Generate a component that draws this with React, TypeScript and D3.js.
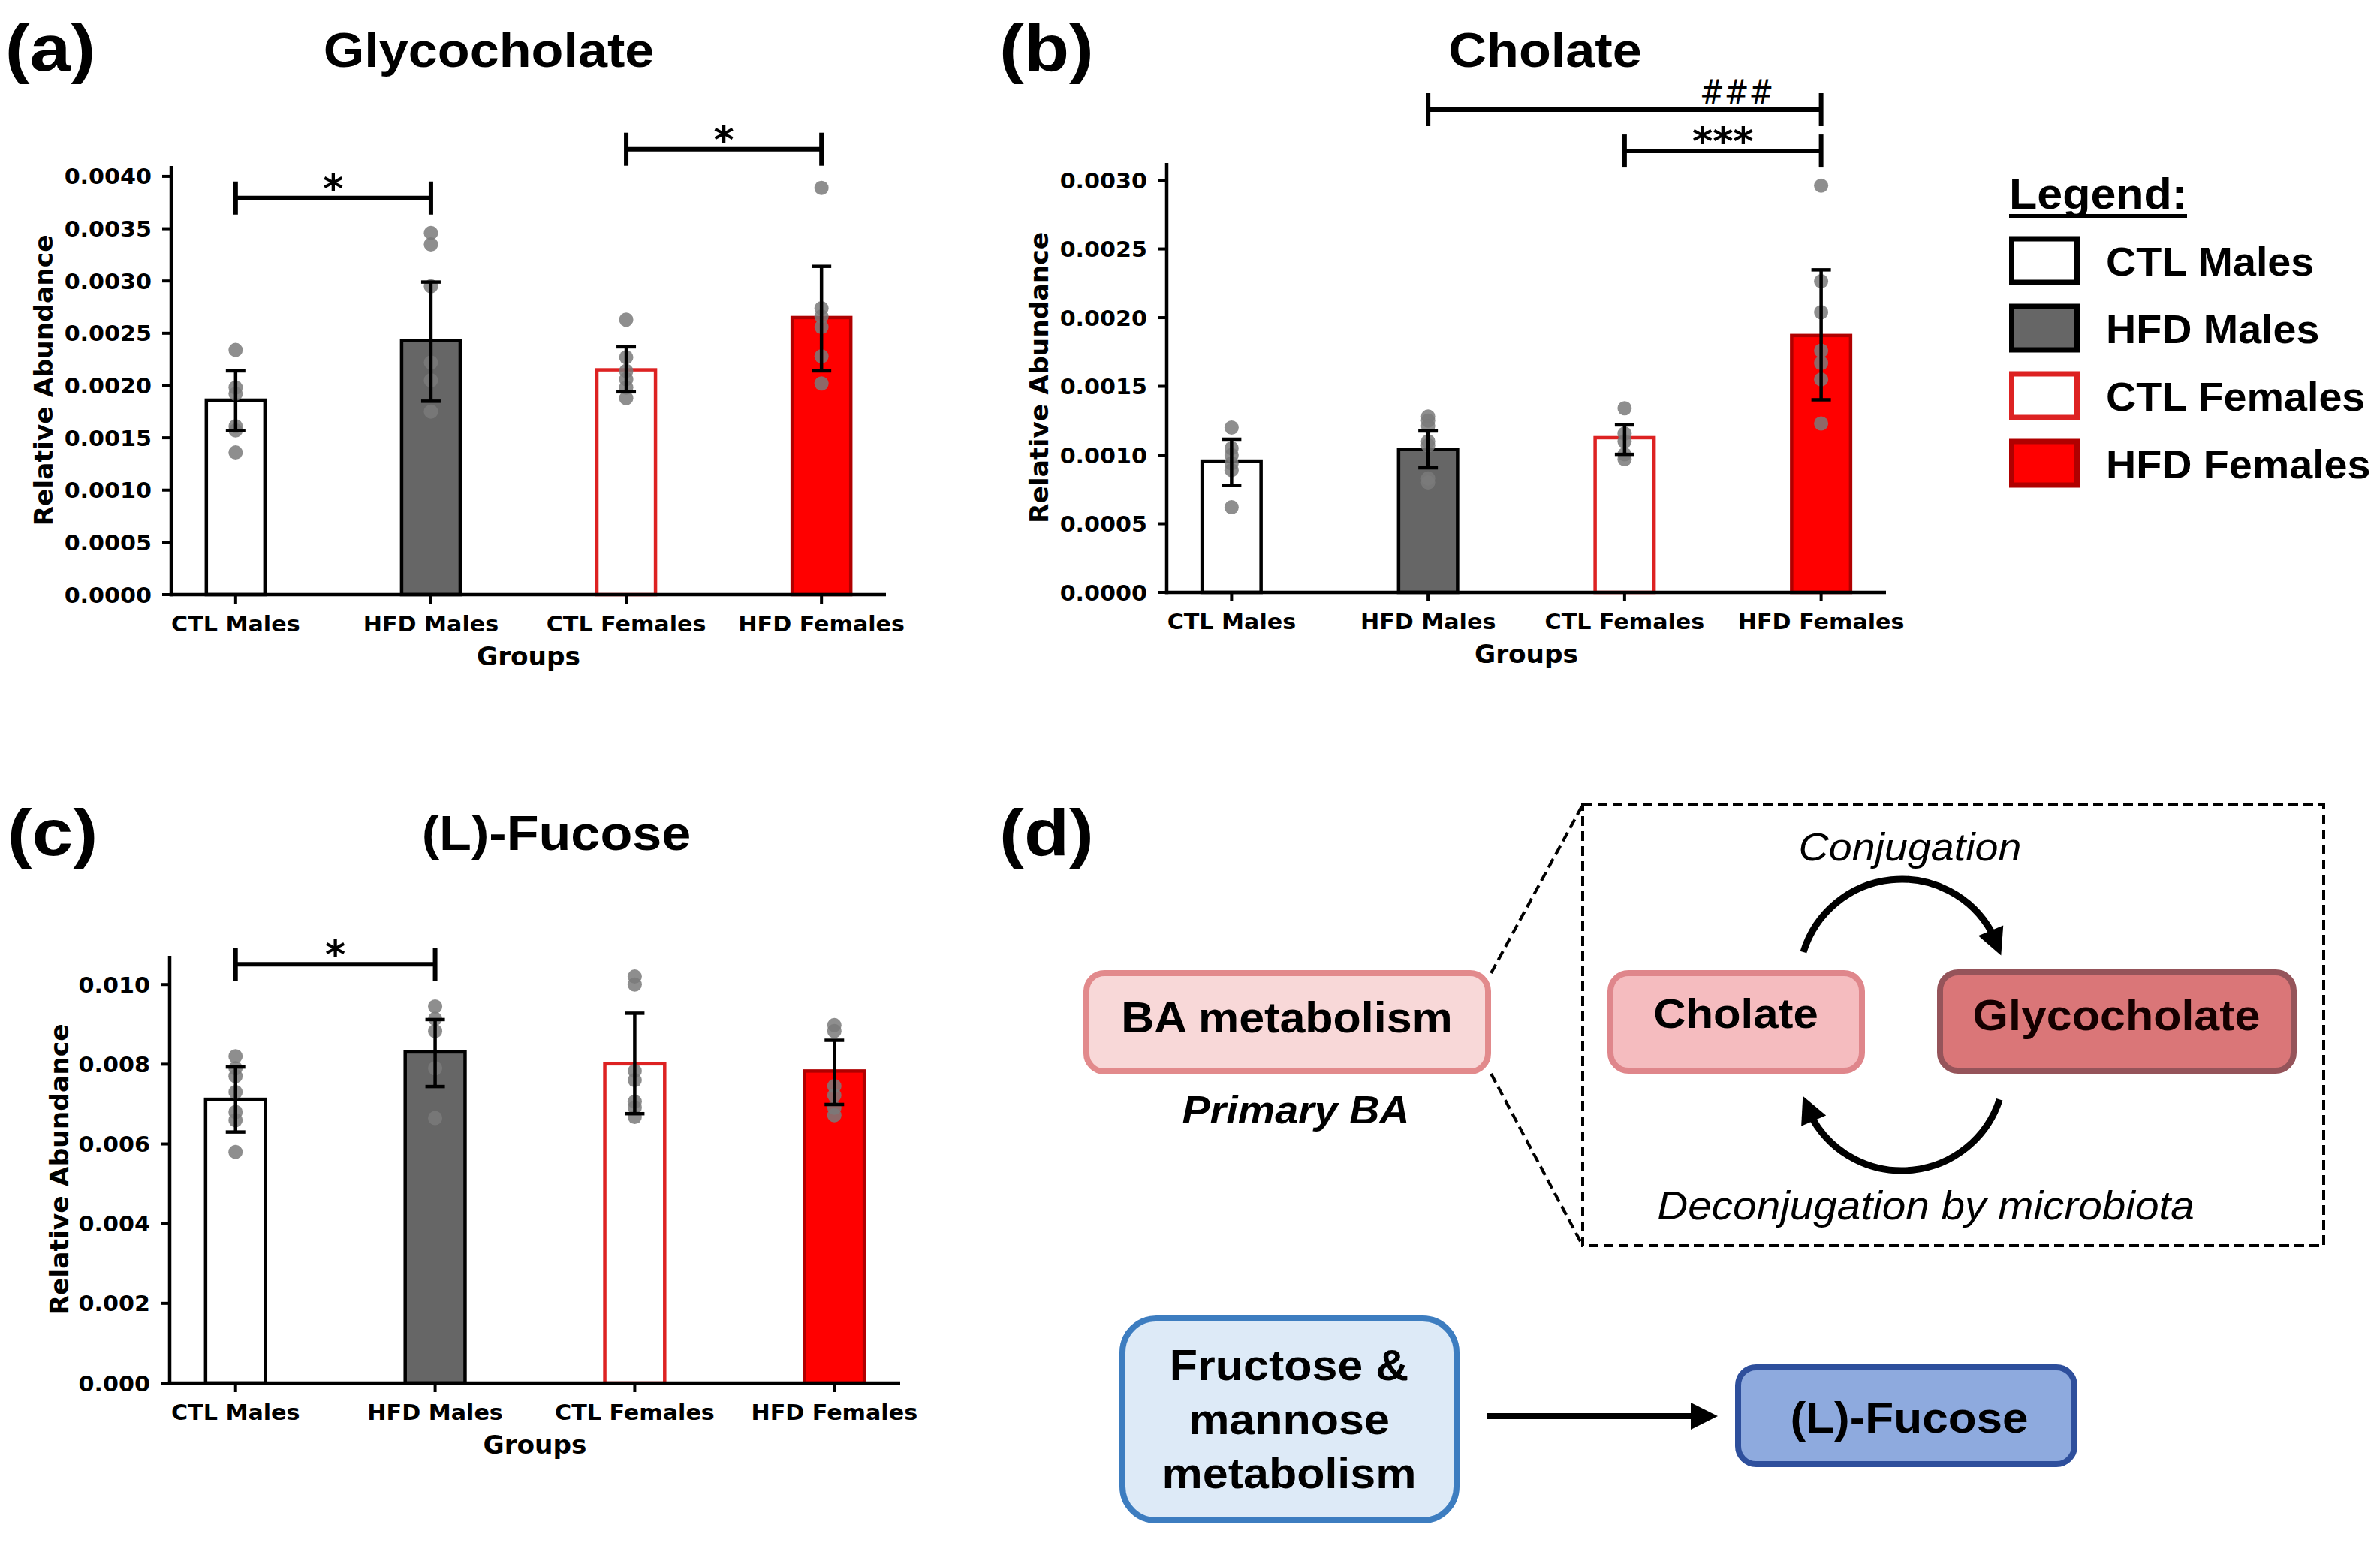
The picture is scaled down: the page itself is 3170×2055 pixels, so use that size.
import React from "react";
import * as d3 from "d3";

const W = 3170;
const H = 2055;
const ARIAL = "'Liberation Sans', Arial, Helvetica, sans-serif";
const DEJAVU = "'DejaVu Sans', sans-serif";

// ---------- data ----------
const groups = ["CTL Males", "HFD Males", "CTL Females", "HFD Females"];
const barFills = ["#ffffff", "#666666", "#ffffff", "#ff0000"];
const barEdges = ["#000000", "#000000", "#dd2222", "#b00000"];

// Glycocholate
const glycoMean = [0.00186, 0.00243, 0.00215, 0.00265];
const glycoLow = [0.00157, 0.00185, 0.00194, 0.00214];
const glycoHigh = [0.00214, 0.00299, 0.00237, 0.00314];
const glycoPoints = [
  [0.00234, 0.00198, 0.00192, 0.00161, 0.00157, 0.00136],
  [0.00346, 0.00335, 0.00295, 0.00222, 0.00205, 0.00175],
  [0.00263, 0.00227, 0.00214, 0.00206, 0.00198, 0.00188],
  [0.00389, 0.00274, 0.00266, 0.00256, 0.00228, 0.00202],
];
const glycoTicks = [0, 0.0005, 0.001, 0.0015, 0.002, 0.0025, 0.003, 0.0035, 0.004];
const glycoSig = [
  { a: 0, b: 1, level: 0.003793, label: "*", pos: 0.5 },
  { a: 2, b: 3, level: 0.00426, label: "*", pos: 2.5 },
];

// Cholate
const cholMean = [0.000956, 0.00104, 0.001126, 0.00187];
const cholLow = [0.00078, 0.000907, 0.001005, 0.001402];
const cholHigh = [0.001115, 0.001175, 0.001219, 0.002348];
const cholPoints = [
  [0.0012, 0.00105, 0.001, 0.00094, 0.00089, 0.00062],
  [0.00128, 0.00125, 0.00121, 0.0011, 0.00107, 0.00083, 0.0008],
  [0.00134, 0.001156, 0.0011, 0.001005, 0.00097],
  [0.00296, 0.002265, 0.00204, 0.00176, 0.00167, 0.00155, 0.00123],
];
const cholTicks = [0, 0.0005, 0.001, 0.0015, 0.002, 0.0025, 0.003];
const cholSig = [
  { a: 1, b: 3, level: 0.003514, label: "###", pos: 2.57 },
  { a: 2, b: 3, level: 0.003213, label: "***", pos: 2.5 },
];

// (L)-Fucose
const fucMean = [0.00712, 0.00831, 0.00801, 0.00783];
const fucLow = [0.0063, 0.00744, 0.00676, 0.00699];
const fucHigh = [0.00793, 0.00912, 0.00928, 0.0086];
const fucPoints = [
  [0.0082, 0.0079, 0.0077, 0.0073, 0.0068, 0.0066, 0.0058],
  [0.00945, 0.00914, 0.00883, 0.0079, 0.00665],
  [0.0102, 0.01, 0.00783, 0.0076, 0.00706, 0.00691, 0.00668],
  [0.00898, 0.00883, 0.00745, 0.00722, 0.00691, 0.00672],
];
const fucTicks = [0, 0.002, 0.004, 0.006, 0.008, 0.01];
const fucSig = [{ a: 0, b: 1, level: 0.01051, label: "*", pos: 0.5 }];

// ---------- helpers ----------
function Txt(props: any) {
  const {
    x, y, size, children, anchor = "middle", weight = "bold", italic = false,
    family = ARIAL, sx = 1.07, rotate = 0, fill = "#000",
  } = props;
  return (
    <text
      transform={`translate(${x},${y}) rotate(${rotate}) scale(${sx},1)`}
      textAnchor={anchor}
      fontFamily={family}
      fontSize={size}
      fontWeight={weight}
      fontStyle={italic ? "italic" : "normal"}
      fill={fill}
    >
      {children}
    </text>
  );
}

function BarPanel(props: any) {
  const { frame, mean, low, high, points, ticks, digits, sigs, ylabelOff } = props;
  const x = d3.scaleLinear().domain([-0.33, 3.33]).range([frame.left, frame.right]);
  const y = d3.scaleLinear().domain([0, frame.yMax]).range([frame.bottom, frame.top]);
  const bw = x(0.3) - x(0);
  const fmt = d3.format(`.${digits}f`);
  const sw = 4.5;
  const cap = 13;
  return (
    <g>
      {groups.map((g, i) => (
        <rect
          key={g}
          x={x(i) - bw / 2}
          y={y(mean[i])}
          width={bw}
          height={y(0) - y(mean[i])}
          fill={barFills[i]}
          stroke={barEdges[i]}
          strokeWidth={sw}
        />
      ))}
      {points.map((arr: number[], i: number) =>
        arr.map((v, k) => (
          <circle key={`${i}-${k}`} cx={x(i)} cy={y(v)} r={9.5} fill="#7a7a7a" fillOpacity={0.85} />
        ))
      )}
      {groups.map((g, i) => (
        <g key={g} stroke="#000" strokeWidth={sw}>
          <line x1={x(i)} x2={x(i)} y1={y(low[i])} y2={y(high[i])} />
          <line x1={x(i) - cap} x2={x(i) + cap} y1={y(low[i])} y2={y(low[i])} />
          <line x1={x(i) - cap} x2={x(i) + cap} y1={y(high[i])} y2={y(high[i])} />
        </g>
      ))}
      <line x1={frame.left} x2={frame.left} y1={frame.bottom + sw / 2} y2={frame.top} stroke="#000" strokeWidth={sw} />
      <line x1={frame.left - sw / 2} x2={frame.right} y1={frame.bottom} y2={frame.bottom} stroke="#000" strokeWidth={sw} />
      {ticks.map((t: number) => (
        <g key={t}>
          <line x1={frame.left - 12} x2={frame.left} y1={y(t)} y2={y(t)} stroke="#000" strokeWidth={4} />
          <Txt x={frame.left - 26} y={y(t) + 10.5} size={29} anchor="end" family={DEJAVU} sx={1.04}>
            {fmt(t)}
          </Txt>
        </g>
      ))}
      {groups.map((g, i) => (
        <g key={g}>
          <line x1={x(i)} x2={x(i)} y1={frame.bottom} y2={frame.bottom + 12} stroke="#000" strokeWidth={4} />
          <Txt x={x(i)} y={frame.bottom + 49} size={29} family={DEJAVU} sx={1.04}>
            {g}
          </Txt>
        </g>
      ))}
      <Txt x={(frame.left + frame.right) / 2} y={frame.bottom + 94} size={33} family={DEJAVU} sx={1.04}>
        Groups
      </Txt>
      <Txt
        x={frame.left - ylabelOff}
        y={(frame.top + frame.bottom) / 2}
        size={34.5}
        family={DEJAVU}
        sx={1}
        rotate={-90}
      >
        Relative Abundance
      </Txt>
      {sigs.map((s: any, k: number) => {
        const yy = y(s.level);
        const isHash = s.label.startsWith("#");
        return (
          <g key={k}>
            <g stroke="#000" strokeWidth={6}>
              <line x1={x(s.a)} x2={x(s.b)} y1={yy} y2={yy} />
              <line x1={x(s.a)} x2={x(s.a)} y1={yy - 22} y2={yy + 22} />
              <line x1={x(s.b)} x2={x(s.b)} y1={yy - 22} y2={yy + 22} />
            </g>
            {isHash ? (
              <Txt x={x(s.pos)} y={yy - 7} size={46} family={DEJAVU} weight="normal" sx={0.85}>
                {s.label}
              </Txt>
            ) : (
              <Txt x={x(s.pos)} y={yy + 5} size={52} family={DEJAVU} sx={1.0}>
                {s.label}
              </Txt>
            )}
          </g>
        );
      })}
    </g>
  );
}

function arcArrow(cx: number, cy: number, r: number, a0deg: number, a1deg: number, headLen: number, headHalf: number) {
  const a0 = (a0deg * Math.PI) / 180;
  const a1 = (a1deg * Math.PI) / 180;
  const aBase = a1 - headLen / r;
  const p = d3.path();
  p.arc(cx, cy, r, a0, aBase + 0.02, false);
  const tip: [number, number] = [cx + r * Math.cos(a1), cy + r * Math.sin(a1)];
  const base: [number, number] = [cx + r * Math.cos(aBase), cy + r * Math.sin(aBase)];
  const ux = tip[0] - base[0];
  const uy = tip[1] - base[1];
  const len = Math.hypot(ux, uy);
  const nx = -uy / len;
  const ny = ux / len;
  const head = `M${tip[0]},${tip[1]} L${base[0] + nx * headHalf},${base[1] + ny * headHalf} L${base[0] - nx * headHalf},${base[1] - ny * headHalf} Z`;
  return { line: p.toString(), head };
}

const frameA = { left: 228, right: 1180, bottom: 792, top: 221, yMax: 0.0041 };
const frameB = { left: 1554, right: 2512, bottom: 789, top: 217, yMax: 0.003126 };
const frameC = { left: 226, right: 1199, bottom: 1842, top: 1273, yMax: 0.01072 };

export default function App() {
  const top = arcArrow(2533, 1308, 137, 197, 345, 36, 18);
  const bot = arcArrow(2533, 1422, 137, 18, 164, 36, 18);
  const legendRows = [347, 437, 527, 617];
  return (
    <svg
      width={W}
      height={H}
      viewBox={`0 0 ${W} ${H}`}
      style={{ position: "absolute", left: 0, top: 0, background: "#fff" }}
    >
      <rect x={0} y={0} width={W} height={H} fill="#fff" />

      <Txt x={67} y={94} size={88} sx={1.12}>(a)</Txt>
      <Txt x={1394} y={94} size={88} sx={1.12}>(b)</Txt>
      <Txt x={70} y={1139} size={88} sx={1.12}>(c)</Txt>
      <Txt x={1394} y={1139} size={88} sx={1.12}>(d)</Txt>
      <Txt x={651} y={89} size={65} sx={1.08}>Glycocholate</Txt>
      <Txt x={2058} y={89} size={65} sx={1.08}>Cholate</Txt>
      <Txt x={741} y={1132} size={65} sx={1.08}>(L)-Fucose</Txt>

      <BarPanel frame={frameA} mean={glycoMean} low={glycoLow} high={glycoHigh} points={glycoPoints}
        ticks={glycoTicks} digits={4} sigs={glycoSig} ylabelOff={158} />
      <BarPanel frame={frameB} mean={cholMean} low={cholLow} high={cholHigh} points={cholPoints}
        ticks={cholTicks} digits={4} sigs={cholSig} ylabelOff={158} />
      <BarPanel frame={frameC} mean={fucMean} low={fucLow} high={fucHigh} points={fucPoints}
        ticks={fucTicks} digits={3} sigs={fucSig} ylabelOff={135} />

      {/* legend */}
      <Txt x={2676} y={278} size={57} anchor="start">Legend:</Txt>
      <rect x={2676} y={285} width={237} height={6} fill="#000" />
      {groups.map((g, i) => (
        <g key={g}>
          <rect x={2679.5} y={legendRows[i] - 29} width={87} height={58} fill={barFills[i]} stroke={barEdges[i]} strokeWidth={7} />
          <Txt x={2805} y={legendRows[i] + 20} size={53} anchor="start" sx={1.05}>{g}</Txt>
        </g>
      ))}

      {/* panel (d) diagram */}
      <rect x={2108} y={1072} width={987} height={587} fill="none" stroke="#000" strokeWidth={4} strokeDasharray="13 7" />
      <line x1={1986} y1={1296} x2={2108} y2={1072} stroke="#000" strokeWidth={4} strokeDasharray="13 7" />
      <line x1={1986} y1={1430} x2={2108} y2={1659} stroke="#000" strokeWidth={4} strokeDasharray="13 7" />

      <rect x={1447} y={1296} width={535} height={131} rx={24} fill="#f8d8d8" stroke="#e28a8c" strokeWidth={8} />
      <Txt x={1714} y={1375} size={57}>BA metabolism</Txt>
      <Txt x={1726} y={1496} size={52} italic>Primary BA</Txt>

      <rect x={2145} y={1296} width={335} height={130} rx={24} fill="#f5bcbf" stroke="#df868b" strokeWidth={8} />
      <Txt x={2312} y={1369} size={56}>Cholate</Txt>
      <rect x={2584} y={1295} width={471} height={131} rx={24} fill="#da7678" stroke="#95545a" strokeWidth={8} />
      <Txt x={2819} y={1372} size={57} fill="#150000">Glycocholate</Txt>

      <Txt x={2544} y={1146} size={52} italic weight="normal">Conjugation</Txt>
      <Txt x={2565} y={1624} size={53} italic weight="normal">Deconjugation by microbiota</Txt>
      <path d={top.line} fill="none" stroke="#000" strokeWidth={9} />
      <path d={top.head} fill="#000" />
      <path d={bot.line} fill="none" stroke="#000" strokeWidth={9} />
      <path d={bot.head} fill="#000" />

      <rect x={1495} y={1756} width={445} height={269} rx={45} fill="#ddeaf7" stroke="#3d7dc0" strokeWidth={8} />
      <Txt x={1717} y={1838} size={57}>Fructose &amp;</Txt>
      <Txt x={1717} y={1910} size={57}>mannose</Txt>
      <Txt x={1717} y={1982} size={57}>metabolism</Txt>

      <line x1={1980} y1={1886} x2={2256} y2={1886} stroke="#000" strokeWidth={8} />
      <path d="M2288,1886 L2252,1868 L2252,1904 Z" fill="#000" />

      <rect x={2315} y={1821} width={448} height={129} rx={24} fill="#8eaade" stroke="#2e4f9c" strokeWidth={8} />
      <Txt x={2543} y={1908} size={58}>(L)-Fucose</Txt>
    </svg>
  );
}
